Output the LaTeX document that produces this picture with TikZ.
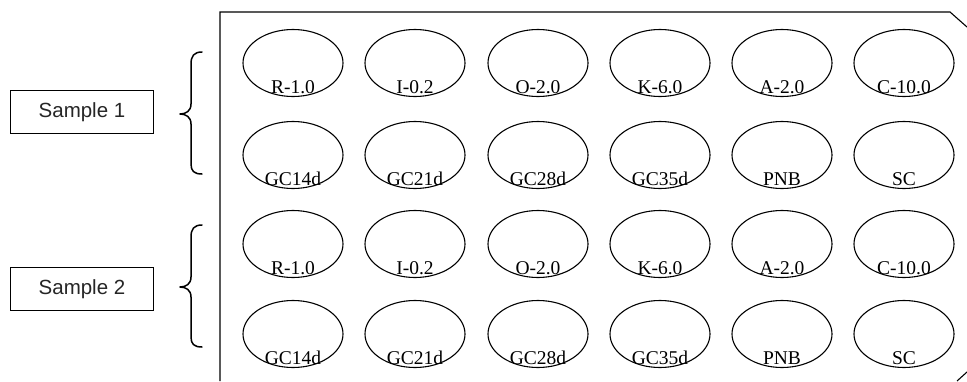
\documentclass[tikz,border=0pt]{standalone}
\usepackage{fontspec}
\setmainfont{Liberation Serif}
\newfontfamily\labelsans{Liberation Sans}
\usetikzlibrary{shapes.geometric}
\tikzset{
  well/.style={draw, ellipse, line width=1.1pt, minimum width=100pt, minimum height=67pt, inner sep=0pt},
  welllabel/.style={anchor=base, inner sep=0pt, font=\fontsize{19.5}{21}\selectfont},
  samplebox/.style={draw, line width=1pt, minimum width=143pt, minimum height=43pt, inner sep=0pt, font=\labelsans\fontsize{20.5}{22}\selectfont, text=black!85},
  bracepath/.style={line width=1.5pt, line cap=round, line join=round},
  plateline/.style={line width=1.1pt}
}
\begin{document}
\begin{tikzpicture}[x=1pt,y=-1pt]
\useasboundingbox (0,0) rectangle (967,381);
% plate outline
\coordinate (pbl) at (220,381);
\coordinate (ptl) at (220,12);
\coordinate (ptr) at (950,12);
\coordinate (ptc) at (967,27);
\coordinate (pbr1) at (957,381);
\coordinate (pbr2) at (967,372);
\draw[plateline] (pbl) -- (ptl) -- (ptr) -- (ptc);
\draw[plateline] (pbr1) -- (pbr2);
% wells
\def\colx{{293,415,538,660,782,904}}
\foreach \r/\y in {1/63,2/155,3/244,4/334}{
  \foreach \c in {0,...,5}{
    \pgfmathsetmacro\xx{\colx[\c]}
    \node[well] (w\r\c) at (\xx,\y) {};
  }
}
\foreach \r in {1,3}{
  \foreach \c/\t in {0/R-1.0,1/I-0.2,2/O-2.0,3/K-6.0,4/A-2.0,5/C-10.0}{
    \node[welllabel] (t\r\c) at ([yshift=-30pt]w\r\c.center) {\t};
  }
}
\foreach \r in {2,4}{
  \foreach \c/\t in {0/GC14d,1/GC21d,2/GC28d,3/GC35d,4/PNB,5/SC}{
    \node[welllabel] (t\r\c) at ([yshift=-30pt]w\r\c.center) {\t};
  }
}
% sample boxes
\node[samplebox] (s1) at (82,112) {Sample 1};
\node[samplebox] (s2) at (82,289) {Sample 2};
% braces
\draw[bracepath] (202,52) .. controls (194,52) and (191,56) .. (191,64)
  -- (191,104) .. controls (191,111) and (186,114) .. (180,114)
  .. controls (186,114) and (191,117) .. (191,124)
  -- (191,164) .. controls (191,171) and (194,174) .. (202,174);
\draw[bracepath] (202,225) .. controls (194,225) and (191,229) .. (191,237)
  -- (191,277) .. controls (191,284) and (186,287) .. (180,287)
  .. controls (186,287) and (191,290) .. (191,297)
  -- (191,337) .. controls (191,344) and (194,347) .. (202,347);
\end{tikzpicture}
\end{document}
